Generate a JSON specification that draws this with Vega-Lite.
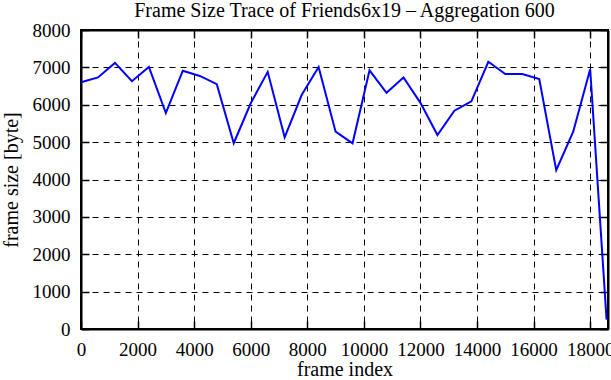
{
  "$schema": "https://vega.github.io/schema/vega-lite/v6.json",
  "width": 527,
  "height": 299,
  "autosize": "none",
  "padding": {"left": 81, "top": 30, "right": 3, "bottom": 51},
  "background": "white",
  "title": {
    "text": "Frame Size Trace of Friends6x19 – Aggregation 600",
    "font": "Liberation Serif",
    "fontSize": 20,
    "fontWeight": "normal",
    "color": "black",
    "anchor": "middle",
    "frame": "group",
    "offset": 0,
    "dy": 0
  },
  "config": {
    "view": {"stroke": "black", "strokeWidth": 2},
    "axis": {
      "labelFont": "Liberation Serif",
      "labelFontSize": 19,
      "labelColor": "black",
      "titleFont": "Liberation Serif",
      "titleFontSize": 20,
      "titleFontWeight": "normal",
      "titleColor": "black",
      "gridColor": "black",
      "gridDash": [6, 5],
      "gridWidth": 1,
      "gridOpacity": 1,
      "domainColor": "black",
      "domainWidth": 2,
      "tickColor": "black",
      "tickWidth": 1.5,
      "tickSize": -8
    }
  },
  "data": {
    "values": [
      {"frame": 0, "size": 6600},
      {"frame": 600, "size": 6730},
      {"frame": 1200, "size": 7120},
      {"frame": 1800, "size": 6630},
      {"frame": 2400, "size": 7010},
      {"frame": 3000, "size": 5780},
      {"frame": 3600, "size": 6910},
      {"frame": 4200, "size": 6770},
      {"frame": 4800, "size": 6550},
      {"frame": 5400, "size": 4970},
      {"frame": 6000, "size": 6040},
      {"frame": 6600, "size": 6880},
      {"frame": 7200, "size": 5130},
      {"frame": 7800, "size": 6260},
      {"frame": 8400, "size": 7010},
      {"frame": 9000, "size": 5280},
      {"frame": 9600, "size": 4970},
      {"frame": 10200, "size": 6920},
      {"frame": 10800, "size": 6320},
      {"frame": 11400, "size": 6730},
      {"frame": 12000, "size": 6050},
      {"frame": 12600, "size": 5190},
      {"frame": 13200, "size": 5840},
      {"frame": 13800, "size": 6090},
      {"frame": 14400, "size": 7150},
      {"frame": 15000, "size": 6820},
      {"frame": 15600, "size": 6820},
      {"frame": 16200, "size": 6690},
      {"frame": 16800, "size": 4250},
      {"frame": 17400, "size": 5280},
      {"frame": 18000, "size": 6950},
      {"frame": 18580, "size": 250}
    ]
  },
  "resolve": {"axis": {"x": "independent", "y": "independent"}},
  "layer": [
    {
      "mark": {"type": "line", "color": "#0000ff", "strokeWidth": 2},
      "encoding": {
        "x": {
          "field": "frame",
          "type": "quantitative",
          "scale": {"domain": [0, 18630], "nice": false, "zero": false},
          "axis": {
            "title": "frame index",
            "grid": true,
            "values": [0, 2000, 4000, 6000, 8000, 10000, 12000, 14000, 16000, 18000],
            "format": "d",
            "labelPadding": 19,
            "titlePadding": 0,
            "labelFlush": false
          }
        },
        "y": {
          "field": "size",
          "type": "quantitative",
          "scale": {"domain": [0, 8000], "nice": false},
          "axis": {
            "title": "frame size [byte]",
            "grid": true,
            "values": [0, 1000, 2000, 3000, 4000, 5000, 6000, 7000, 8000],
            "format": "d",
            "labelPadding": 19,
            "titlePadding": 11
          }
        }
      }
    },
    {
      "mark": {"type": "line", "opacity": 0},
      "encoding": {
        "x": {
          "field": "frame",
          "type": "quantitative",
          "axis": {
            "orient": "top",
            "title": null,
            "labels": false,
            "grid": false,
            "values": [0, 2000, 4000, 6000, 8000, 10000, 12000, 14000, 16000, 18000]
          }
        },
        "y": {
          "field": "size",
          "type": "quantitative",
          "axis": {
            "orient": "right",
            "title": null,
            "labels": false,
            "grid": false,
            "values": [0, 1000, 2000, 3000, 4000, 5000, 6000, 7000, 8000]
          }
        }
      }
    }
  ]
}
